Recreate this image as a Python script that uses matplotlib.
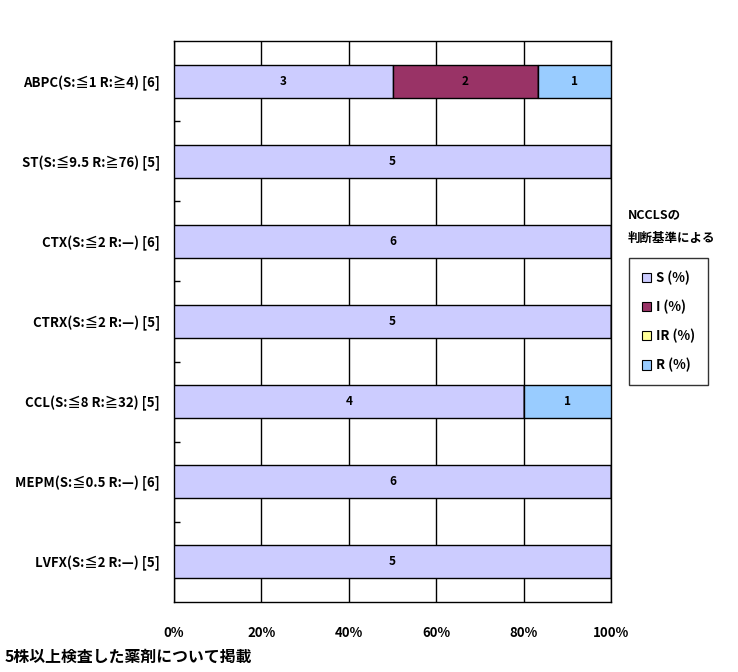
import matplotlib
matplotlib.use("Agg")
import matplotlib.pyplot as plt
import numpy as np
from matplotlib.ticker import FixedLocator
from matplotlib.patches import Patch

plt.rcParams['font.family'] = ['Noto Sans CJK JP', 'DejaVu Sans']
plt.rcParams['font.weight'] = 'bold'

categories = ["ABPC(S:≦1 R:≧4) [6]", "ST(S:≦9.5 R:≧76) [5]", "CTX(S:≦2 R:—) [6]",
              "CTRX(S:≦2 R:—) [5]", "CCL(S:≦8 R:≧32) [5]", "MEPM(S:≦0.5 R:—) [6]",
              "LVFX(S:≦2 R:—) [5]"]
series_names = ["S (%)", "I (%)", "IR (%)", "R (%)"]
S_counts = [3, 5, 6, 5, 4, 6, 5]
I_counts = [2, 0, 0, 0, 0, 0, 0]
IR_counts = [0, 0, 0, 0, 0, 0, 0]
R_counts = [1, 0, 0, 0, 1, 0, 0]
colors = ["#CCCCFF", "#993366", "#FFFF99", "#99CCFF"]
x_ticks = [0, 20, 40, 60, 80, 100]
x_ticklabels = ["0%", "20%", "40%", "60%", "80%", "100%"]

fig = plt.figure(figsize=(7.38, 6.72), dpi=100)
ax = fig.add_axes([174/738, 1-602/672, 437/738, 561/672])

counts = np.array([S_counts, I_counts, IR_counts, R_counts], dtype=float)
totals = counts.sum(axis=0)
pct = counts / totals * 100
y = np.arange(len(categories))
left = np.zeros(len(categories))
for k in range(4):
    ax.barh(y, pct[k], left=left, height=0.41, color=colors[k], edgecolor='black',
            linewidth=1.0, zorder=3)
    for i in range(len(categories)):
        if counts[k, i] > 0:
            ax.text(left[i] + pct[k, i] / 2, y[i], str(int(counts[k, i])), ha='center',
                    va='center', fontsize=8.5, fontweight='bold', zorder=4)
    left += pct[k]

ax.set_xlim(0, 100)
ax.set_ylim(len(categories) - 0.5, -0.5)
ax.xaxis.set_major_locator(FixedLocator(x_ticks))
ax.set_xticklabels(x_ticklabels, fontsize=9.5, fontweight='bold')
ax.tick_params(axis='x', length=0, pad=17)
ax.grid(axis='x', color='black', linewidth=1.0, zorder=1)
ax.set_yticks(y)
ax.set_yticklabels(categories, fontsize=9.5, fontweight='bold')
ax.tick_params(axis='y', which='major', length=0, pad=10)
ax.set_yticks(np.arange(0.5, len(categories) - 1, 1), minor=True)
ax.tick_params(axis='y', which='minor', length=4, direction='in', width=1)
for s in ax.spines.values():
    s.set_linewidth(1.0)
    s.set_color('black')

fig.text(628/738, 1-215/672, "NCCLSの", fontsize=9, fontweight='bold', va='center', ha='left')
fig.text(628/738, 1-238/672, "判断基準による", fontsize=9, fontweight='bold', va='center', ha='left')

handles = [Patch(facecolor=c, edgecolor='black', linewidth=0.8) for c in colors]
leg = fig.legend(handles, series_names, loc='upper left',
                 bbox_to_anchor=(629/738, 1-258/672), fontsize=9.5,
                 handlelength=0.7, handleheight=0.7, handletextpad=0.4,
                 labelspacing=1.12, borderpad=0.95, borderaxespad=0,
                 fancybox=False, frameon=True)
leg.get_frame().set_edgecolor('black')
leg.get_frame().set_linewidth(1.0)
for t in leg.get_texts():
    t.set_fontweight('bold')

fig.text(5/738, 1-657/672, "5株以上検査した薬剤について掲載", fontsize=11.4, fontweight='bold',
         va='center', ha='left')

fig.savefig("out.png", dpi=100)
